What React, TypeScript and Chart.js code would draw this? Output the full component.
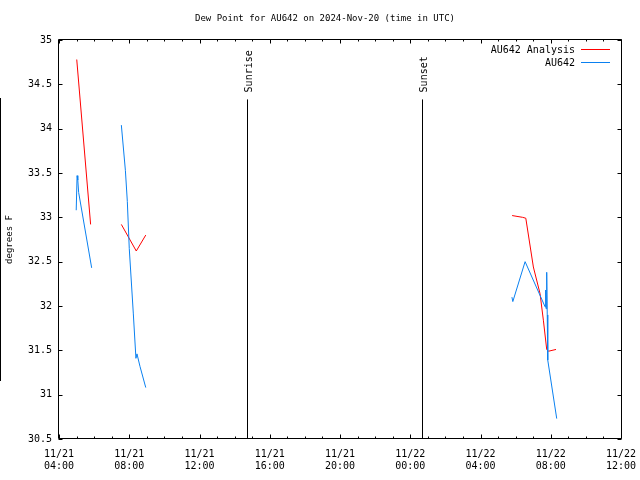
import React, { useEffect, useRef } from "react";
import { Chart, registerables } from "chart.js";

Chart.register(...registerables);

const FONT = "'DejaVu Sans Mono', 'Liberation Mono', monospace";
const FONT_SIZE = 10;
const TITLE_SIZE = 9;

const titleText = "Dew Point for AU642 on 2024-Nov-20 (time in UTC)";
const yAxisTitle = "degrees F";
const seriesNames = ["AU642 Analysis", "AU642"];
const seriesColors = ["#ff0000", "#0a80f0"];

// x values are hours since 2024-11-21 00:00 UTC
const xMin = 4;
const xMax = 36;
const xStep = 4;
const xTickLabels: string[][] = [
  ["11/21", "04:00"],
  ["11/21", "08:00"],
  ["11/21", "12:00"],
  ["11/21", "16:00"],
  ["11/21", "20:00"],
  ["11/22", "00:00"],
  ["11/22", "04:00"],
  ["11/22", "08:00"],
  ["11/22", "12:00"],
];
const yMin = 30.5;
const yMax = 35;
const yStep = 0.5;

// AU642 Analysis (red)
const analysisSeg1: [number, number][] = [
  [5.01, 34.78],
  [5.8, 32.92],
];
const analysisSeg2: [number, number][] = [
  [7.55, 32.92],
  [8.4, 32.62],
  [8.94, 32.8],
];
const analysisSeg3: [number, number][] = [
  [29.8, 33.02],
  [30.4, 33.0],
  [30.58, 32.99],
  [31.01, 32.44],
  [31.39, 32.14],
  [31.58, 31.84],
  [31.77, 31.51],
  [31.87, 31.49],
  [32.3, 31.51],
];

// AU642 (blue)
const obsSeg1: [number, number][] = [
  [4.98, 33.08],
  [5.03, 33.47],
  [5.07, 33.42],
  [5.12, 33.28],
  [5.86, 32.43],
];
const obsSeg2: [number, number][] = [
  [7.55, 34.04],
  [7.78, 33.53],
  [7.89, 33.18],
  [8.0, 32.65],
  [8.23, 31.92],
  [8.38, 31.41],
  [8.44, 31.46],
  [8.61, 31.32],
  [8.94, 31.08],
];
const obsSeg3: [number, number][] = [
  [29.79, 32.1],
  [29.84, 32.05],
  [30.54, 32.5],
  [31.68, 31.99],
  [31.71, 32.18],
  [31.73, 31.97],
  [31.77, 32.38],
  [31.8, 31.9],
  [31.83, 31.39],
  [32.34, 30.73],
];

const sunLabels = ["Sunrise", "Sunset"];
const sunHours = [14.7, 24.67];
const sunLineTop = 34.33;

function toPoints(seg: [number, number][]) {
  return seg.map(([x, y]) => ({ x, y }));
}

const decorPlugin = {
  id: "decor",
  afterDatasetsDraw(chart: any) {
    const { ctx, chartArea, scales } = chart;
    const xs = scales.x;
    const ys = scales.y;
    const L = Math.round(chartArea.left) - 0.5;
    const R = Math.round(chartArea.right) + 0.5;
    const T = Math.round(chartArea.top) - 0.5;
    const B = Math.round(chartArea.bottom) - 0.5;
    ctx.save();
    ctx.strokeStyle = "#000";
    ctx.lineWidth = 1;

    // sunrise / sunset lines
    ctx.font = `${FONT_SIZE}px ${FONT}`;
    ctx.fillStyle = "#000";
    sunHours.forEach((h, i) => {
      const px = Math.round(xs.getPixelForValue(h)) + 0.5;
      const top = ys.getPixelForValue(sunLineTop);
      ctx.beginPath();
      ctx.moveTo(px, top);
      ctx.lineTo(px, B);
      ctx.stroke();
      ctx.save();
      ctx.translate(px + 2, top - 7);
      ctx.rotate(-Math.PI / 2);
      ctx.textAlign = "left";
      ctx.textBaseline = "middle";
      ctx.fillText(sunLabels[i], 0, 0);
      ctx.restore();
    });

    // frame
    ctx.beginPath();
    ctx.rect(L, T, R - L, B - T);
    ctx.stroke();

    // x ticks (major every 4h, minor every 1h), bottom and top
    ctx.beginPath();
    for (let h = xMin; h <= xMax; h += 1) {
      const px = Math.round(xs.getPixelForValue(h)) + 0.5;
      const len = (h - xMin) % xStep === 0 ? 4 : 2;
      ctx.moveTo(px, B);
      ctx.lineTo(px, B - len);
      ctx.moveTo(px, T);
      ctx.lineTo(px, T + len);
    }
    // y ticks left and right
    for (let v = yMin; v <= yMax + 1e-9; v += yStep) {
      const py = Math.round(ys.getPixelForValue(v)) + 0.5;
      ctx.moveTo(L, py);
      ctx.lineTo(L + 4, py);
      ctx.moveTo(R, py);
      ctx.lineTo(R - 4, py);
    }
    ctx.stroke();

    // title
    ctx.font = `${TITLE_SIZE}px ${FONT}`;
    ctx.textAlign = "center";
    ctx.textBaseline = "middle";
    ctx.fillText(titleText, 325, 19);

    // y-axis title
    ctx.save();
    ctx.translate(10, (chartArea.top + chartArea.bottom) / 2);
    ctx.rotate(-Math.PI / 2);
    ctx.textAlign = "center";
    ctx.textBaseline = "middle";
    ctx.fillText(yAxisTitle, 0, 0);
    ctx.restore();

    // legend
    ctx.font = `${FONT_SIZE}px ${FONT}`;
    ctx.textAlign = "right";
    ctx.textBaseline = "middle";
    seriesNames.forEach((name, i) => {
      const y = 50 + i * 13;
      ctx.fillStyle = "#000";
      ctx.fillText(name, 575, y);
      ctx.strokeStyle = seriesColors[i];
      ctx.beginPath();
      ctx.moveTo(581, Math.round(y) - 0.5);
      ctx.lineTo(610, Math.round(y) - 0.5);
      ctx.stroke();
    });

    // left edge marker
    ctx.fillStyle = "#000";
    ctx.fillRect(0, 98, 1, 283);
    ctx.restore();
  },
};

export default function App() {
  const ref = useRef<HTMLCanvasElement | null>(null);
  useEffect(() => {
    if (!ref.current) return;
    const mk = (seg: [number, number][], color: string) => ({
      data: toPoints(seg),
      borderColor: color,
      backgroundColor: color,
      borderWidth: 1,
      pointRadius: 0,
      fill: false,
      tension: 0,
    });
    const chart = new Chart(ref.current, {
      type: "line",
      data: {
        datasets: [
          mk(obsSeg1, seriesColors[1]),
          mk(obsSeg2, seriesColors[1]),
          mk(obsSeg3, seriesColors[1]),
          mk(analysisSeg1, seriesColors[0]),
          mk(analysisSeg2, seriesColors[0]),
          mk(analysisSeg3, seriesColors[0]),
        ],
      },
      options: {
        responsive: false,
        animation: false,
        devicePixelRatio: 1,
        layout: { padding: { top: 40, right: 19, left: 0, bottom: 0 } },
        plugins: {
          legend: { display: false },
          title: { display: false },
          tooltip: { enabled: false },
        },
        scales: {
          x: {
            type: "linear",
            min: xMin,
            max: xMax,
            afterFit: (s: any) => {
              s.height = 41;
              s.paddingLeft = 0;
              s.paddingRight = 0;
            },
            afterBuildTicks: (s: any) => {
              s.ticks = xTickLabels.map((_, i) => ({ value: xMin + i * xStep }));
            },
            grid: { display: false, drawTicks: false },
            border: { display: false },
            ticks: {
              autoSkip: false,
              maxRotation: 0,
              padding: 9,
              color: "#000",
              font: { family: FONT, size: FONT_SIZE, lineHeight: 1.2 },
              callback: (v: any) => xTickLabels[Math.round((Number(v) - xMin) / xStep)],
            },
          },
          y: {
            type: "linear",
            min: yMin,
            max: yMax,
            afterFit: (s: any) => {
              s.width = 59;
              s.paddingTop = 0;
              s.paddingBottom = 0;
            },
            grid: { display: false, drawTicks: false },
            border: { display: false },
            ticks: {
              stepSize: yStep,
              padding: 7,
              color: "#000",
              font: { family: FONT, size: FONT_SIZE },
              callback: (v: any) => String(Math.round(Number(v) * 10) / 10),
            },
          },
        },
      },
      plugins: [decorPlugin],
    } as any);
    return () => chart.destroy();
  }, []);
  return (
    <div style={{ position: "fixed", left: 0, top: 0, width: 640, height: 480, background: "#fff" }}>
      <canvas ref={ref} width={640} height={480} />
    </div>
  );
}
